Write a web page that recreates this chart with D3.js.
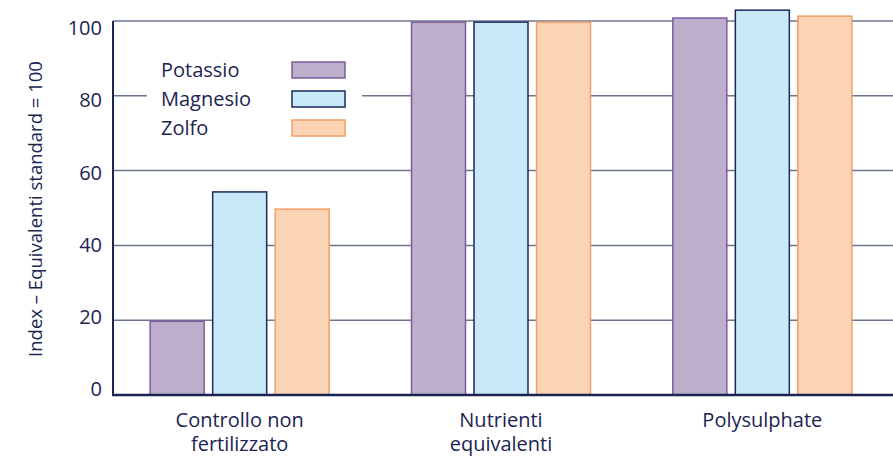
<!DOCTYPE html>
<html>
<head>
<meta charset="utf-8">
<script src="https://cdn.jsdelivr.net/npm/d3@7"></script>
<style>
  body { margin: 0; background: #fff; }
  text { font-family: "Open Sans", "Noto Sans", sans-serif; fill: #1c2452; }
</style>
</head>
<body>
<svg id="chart" width="893" height="457"></svg>
<script>
const groups = ["Controllo non fertilizzato", "Nutrienti equivalenti", "Polysulphate"];
const groupLines = [["Controllo non", "fertilizzato"], ["Nutrienti", "equivalenti"], ["Polysulphate"]];
const series = ["Potassio", "Magnesio", "Zolfo"];
const potassio = [19.7, 99.7, 100.8];
const magnesio = [54.3, 99.7, 102.9];
const zolfo = [49.7, 99.7, 101.3];
const yTicks = [0, 20, 40, 60, 80, 100];

const values = { Potassio: potassio, Magnesio: magnesio, Zolfo: zolfo };
const fills = { Potassio: "#bdaecb", Magnesio: "#c7e9f8", Zolfo: "#fbd3b5" };
const strokes = { Potassio: "#7d5c9c", Magnesio: "#1b2a5c", Zolfo: "#f39e66" };

const svg = d3.select("#chart");
const plotLeft = 113, plotRight = 893, plotTop = 21, plotBottom = 395;

const x0 = d3.scaleBand().domain(groups).range([109, 893]);
const x1 = d3.scaleBand().domain(series)
  .range([x0.bandwidth() / 2 - 89.5, x0.bandwidth() / 2 + 89.5])
  .paddingInner(0.136);
const y = d3.scaleLinear().domain([0, 100]).range([plotBottom, plotTop]);
// the tick labels in the original sit on a slightly tighter spacing than the gridlines
const yLabel = d3.scaleLinear().domain([0, 100]).range([389, 28]);

// gridlines
svg.append("g")
  .selectAll("line")
  .data(yTicks.filter(d => d > 0))
  .join("line")
  .attr("x1", plotLeft).attr("x2", plotRight)
  .attr("y1", d => y(d)).attr("y2", d => y(d))
  .attr("stroke", "#6e7592").attr("stroke-width", 1.5);

// tick labels
svg.append("g")
  .selectAll("text")
  .data(yTicks)
  .join("text")
  .attr("x", 102)
  .attr("y", d => yLabel(d))
  .attr("dy", "0.36em")
  .attr("text-anchor", "end")
  .attr("font-size", 20)
  .text(d => d);

// y title
svg.append("text")
  .attr("transform", "translate(42,209) rotate(-90)")
  .attr("text-anchor", "middle")
  .attr("font-size", 18.5)
  .text("Index – Equivalenti standard = 100");

// bars
groups.forEach((g, i) => {
  svg.append("g")
    .attr("transform", `translate(${x0(g)},0)`)
    .selectAll("rect")
    .data(series)
    .join("rect")
    .attr("x", s => x1(s))
    .attr("y", s => y(values[s][i]))
    .attr("width", x1.bandwidth())
    .attr("height", s => y(0) - y(values[s][i]))
    .attr("fill", s => fills[s])
    .attr("stroke", s => strokes[s])
    .attr("stroke-width", 1.5);
});

// axes lines
svg.append("line")
  .attr("x1", plotLeft).attr("x2", plotLeft).attr("y1", plotTop).attr("y2", plotBottom + 1)
  .attr("stroke", "#1b2350").attr("stroke-width", 2);
svg.append("line")
  .attr("x1", plotLeft - 1).attr("x2", plotRight).attr("y1", plotBottom).attr("y2", plotBottom)
  .attr("stroke", "#1b2350").attr("stroke-width", 2.5);

// category labels
groups.forEach((g, i) => {
  const t = svg.append("text")
    .attr("x", x0(g) + x0.bandwidth() / 2)
    .attr("y", 427)
    .attr("text-anchor", "middle")
    .attr("font-size", 20);
  groupLines[i].forEach((line, j) => {
    t.append("tspan")
      .attr("x", x0(g) + x0.bandwidth() / 2)
      .attr("dy", j === 0 ? 0 : 24)
      .text(line);
  });
});

// legend
const legend = svg.append("g");
legend.append("rect")
  .attr("x", 147).attr("y", 54).attr("width", 215).attr("height", 90)
  .attr("fill", "#fff");
series.forEach((s, i) => {
  const cy = 70 + i * 29;
  legend.append("text")
    .attr("x", 161).attr("y", cy).attr("dy", "0.36em")
    .attr("font-size", 20)
    .text(s);
  legend.append("rect")
    .attr("x", 292).attr("y", cy - 8).attr("width", 53).attr("height", 16)
    .attr("fill", fills[s]).attr("stroke", strokes[s]).attr("stroke-width", 1.5);
});
</script>
</body>
</html>
